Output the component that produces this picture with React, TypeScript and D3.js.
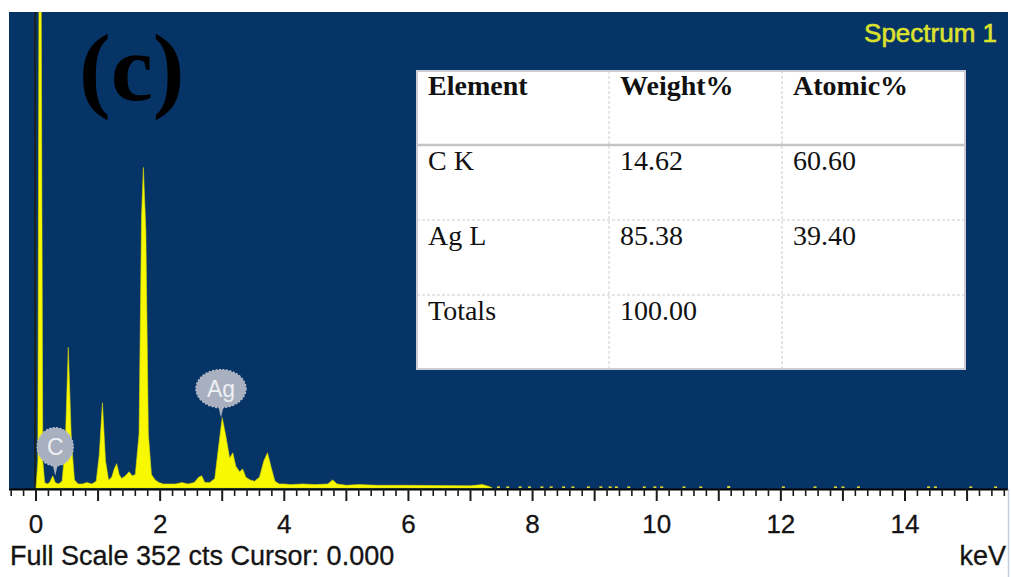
import React from "react";
import * as d3 from "d3";

// ---------- data ----------
const spectrumKeV = [
  0.0, 0.03, 0.05, 0.08, 0.11, 0.14, 0.18, 0.22, 0.27, 0.31, 0.36, 0.42, 0.47, 0.52, 0.57, 0.62, 0.68, 0.75, 0.82, 0.9,
  0.97, 1.02, 1.07, 1.12, 1.17, 1.22, 1.26, 1.3, 1.34, 1.38, 1.44, 1.5, 1.55, 1.6, 1.66, 1.7, 1.73, 1.77, 1.81, 1.86,
  1.92, 1.98, 2.05, 2.15, 2.25, 2.35, 2.45, 2.55, 2.62, 2.67, 2.72, 2.8, 2.88, 2.94, 3.0, 3.06, 3.12, 3.17, 3.22, 3.28,
  3.33, 3.38, 3.45, 3.52, 3.6, 3.67, 3.73, 3.79, 3.85, 3.92, 4.0, 4.1, 4.3, 4.5, 4.7, 4.78, 4.85, 5.0, 5.2, 5.5,
  6.0, 6.5, 7.0, 7.19, 7.3, 7.35,
];
const spectrumCounts = [
  0, 20, 420, 420, 20, 4, 3, 4, 9, 4, 3, 5, 30, 104, 35, 6, 3, 3, 4, 3,
  5, 25, 63, 20, 6, 8, 14, 18, 10, 7, 9, 12, 9, 10, 40, 200, 237, 190, 40, 10,
  6, 4, 3, 3, 3, 4, 3, 4, 8, 9, 4, 4, 7, 30, 52, 38, 22, 26, 16, 12,
  14, 8, 6, 5, 8, 20, 26, 15, 5, 3, 3, 2.5, 3, 2.5, 3, 6, 3, 2, 2.5, 2,
  2, 1.8, 1.6, 2.5, 1.2, 0,
];
const tailKeV = [
  7.45, 7.6, 7.8, 7.95, 8.15, 8.3, 8.5, 8.65, 8.9, 9.1, 9.25, 9.35, 9.55, 9.8, 9.97, 10.08, 10.44, 10.71, 11.16,
  12.04, 12.55, 12.88, 13.0, 13.25, 14.38, 14.49, 15.06, 15.46,
];
const tailCounts = [
  1.2, 1.2, 1.2, 1.2, 1.2, 1.2, 1.2, 1.2, 1.2, 1.2, 1.2, 1.2, 1.2, 1.2, 1.2, 1.2, 1.2, 1.2, 1.5, 1.2, 1.2, 1.2, 1.2,
  1.2, 1.2, 1.2, 1.2, 1.2,
];
const xTickLabels = [0, 2, 4, 6, 8, 10, 12, 14];
const peakLabelNames = ["C", "Ag"];
const peakLabelKeV = [0.31, 2.98];
const peakLabelCounts = [9, 52];

const tableHeaders = ["Element", "Weight%", "Atomic%"];
const tableElements = ["C K", "Ag L", "Totals"];
const tableWeight = ["14.62", "85.38", "100.00"];
const tableAtomic = ["60.60", "39.40", ""];

const fullScaleCounts = 352;

// ---------- layout ----------
const W = 1011;
const H = 577;
const plotL = 9;
const plotR = 1008;
const plotT = 12;
const plotB = 489;

const SANS = "'Liberation Sans', Arial, sans-serif";
const SERIF = "'Liberation Serif', 'Times New Roman', serif";

export default function App() {
  const x = d3.scaleLinear().domain([0, 14]).range([36, 905]);
  const y = d3.scaleLinear().domain([0, fullScaleCounts]).range([488, plotT]);

  const pts: [number, number][] = spectrumKeV.map((k, i) => [k, spectrumCounts[i]]);
  const area = d3
    .area<[number, number]>()
    .x((d) => x(d[0]))
    .y0(y(0))
    .y1((d) => y(d[1]))
    .curve(d3.curveLinear);

  const kMin = x.invert(plotL);
  const kMax = x.invert(plotR);
  const minorTicks = d3.range(Math.ceil(kMin / 0.2), Math.floor(kMax / 0.2) + 1).map((i) => +(i * 0.2).toFixed(2));

  // table layout
  const tL = 417, tR = 965, tT = 71, tB = 369;
  const colX = [tL, 609, 782, tR];
  const rowY = [tT, 145, 220, 295, tB];
  const rows = [tableHeaders, ...tableElements.map((e, i) => [e, tableWeight[i], tableAtomic[i]])];

  return (
    <svg
      width={W}
      height={H}
      style={{ position: "absolute", left: 0, top: 0, background: "#ffffff" }}
    >
      <defs>
        <clipPath id="plotClip">
          <rect x={plotL} y={plotT} width={plotR - plotL} height={plotB - plotT} />
        </clipPath>
      </defs>
      <rect x={0} y={0} width={W} height={H} fill="#ffffff" />
      <rect x={plotL} y={plotT} width={plotR - plotL} height={plotB - plotT} fill="#073467" />

      <g clipPath="url(#plotClip)">
        {/* cursor line */}
        <line x1={x(0) - 1} x2={x(0) - 1} y1={plotT} y2={plotB} stroke="#1c1f14" strokeWidth={1.6} />
        <path d={area(pts) || ""} fill="#f8f800" stroke="#d6d600" strokeWidth={0.6} />
        {tailKeV.map((k, i) => (
          <rect key={i} x={x(k) - 1.5} y={y(tailCounts[i])} width={3} height={y(0) - y(tailCounts[i])} fill="#d8d830" />
        ))}
      </g>

      {/* peak labels */}
      {peakLabelNames.map((n, i) => {
        const px = x(peakLabelKeV[i]);
        const tip = y(peakLabelCounts[i]);
        const wide = n.length > 1;
        const rx = wide ? 25 : 18;
        const ry = 19;
        const cy = tip - 29;
        return (
          <g key={n}>
            <path d={`M${px - 3},${cy + ry - 3} L${px},${tip} L${px + 3},${cy + ry - 3} Z`} fill="#a8afbf" />
            <ellipse cx={px} cy={cy} rx={rx} ry={ry} fill="#a8afbf" stroke="#b5bbc8" strokeWidth={1.5} strokeDasharray="2 1.5" />
            <text x={px} y={cy + 8} textAnchor="middle" fontFamily={SANS} fontSize={23} fill="#eef0f4">
              {n}
            </text>
          </g>
        );
      })}

      {/* (c) */}
      <text x={79} y={100} fontFamily={SERIF} fontWeight="bold" fontSize={95} fill="#000">
        (c)
      </text>

      {/* Spectrum 1 */}
      <text
        x={997}
        y={42}
        textAnchor="end"
        fontFamily={SANS}
        fontSize={26}
        fill="#dce22c"
        stroke="#dce22c"
        strokeWidth={0.6}
      >
        Spectrum 1
      </text>

      {/* table */}
      <rect x={tL} y={tT} width={tR - tL} height={tB - tT} fill="#ffffff" stroke="#c9ccd2" strokeWidth={2} />
      {colX.slice(1, 3).map((cx, i) => (
        <line key={"c" + i} x1={cx} x2={cx} y1={tT} y2={tB} stroke="#cccccc" strokeWidth={1} strokeDasharray="3 2" />
      ))}
      <line x1={tL} x2={tR} y1={rowY[1]} y2={rowY[1]} stroke="#c4c4c4" strokeWidth={2.5} />
      {rowY.slice(2, 4).map((ry, i) => (
        <line key={"r" + i} x1={tL} x2={tR} y1={ry} y2={ry} stroke="#cccccc" strokeWidth={1} strokeDasharray="3 2" />
      ))}
      {rows.map((r, ri) =>
        r.map((cell, ci) => (
          <text
            key={ri + "-" + ci}
            x={colX[ci] + 11}
            y={rowY[ri] + (ri === 0 ? 24 : 25)}
            fontFamily={SERIF}
            fontWeight={ri === 0 ? "bold" : "normal"}
            fontSize={28}
            fill="#111"
          >
            {cell}
          </text>
        ))
      )}

      {/* axis */}
      <line x1={plotL} x2={plotR} y1={plotB + 0.5} y2={plotB + 0.5} stroke="#000" strokeWidth={2} />
      {minorTicks.map((t) => {
        const major = Math.abs(t - Math.round(t)) < 1e-6;
        return (
          <line
            key={t}
            x1={x(t)}
            x2={x(t)}
            y1={plotB}
            y2={plotB + (major ? 12 : 7)}
            stroke="#1a1a1a"
            strokeWidth={major ? 2 : 1.6}
          />
        );
      })}
      {xTickLabels.map((t) => (
        <text
          key={t}
          x={x(t)}
          y={533}
          textAnchor="middle"
          fontFamily={SANS}
          fontSize={26}
          fill="#141414"
          stroke="#141414"
          strokeWidth={0.3}
        >
          {t}
        </text>
      ))}
      <text x={10} y={565} fontFamily={SANS} fontSize={27} fill="#141414" stroke="#141414" strokeWidth={0.3}>
        {`Full Scale ${fullScaleCounts} cts Cursor: 0.000`}
      </text>
      <text
        x={1006}
        y={565}
        textAnchor="end"
        fontFamily={SANS}
        fontSize={27}
        fill="#141414"
        stroke="#141414"
        strokeWidth={0.3}
      >
        keV
      </text>
      <line x1={1008.5} x2={1008.5} y1={plotB} y2={H} stroke="#c5cfdc" strokeWidth={1.5} />
    </svg>
  );
}
